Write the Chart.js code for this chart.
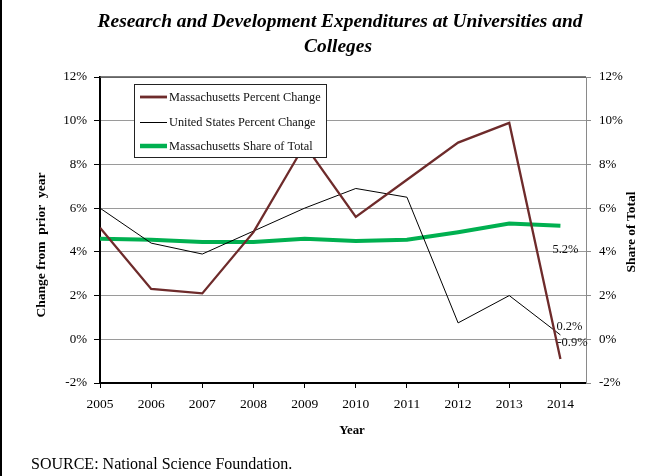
<!DOCTYPE html>
<html><head><meta charset="utf-8">
<script src="https://cdn.jsdelivr.net/npm/chart.js@4.4.0/dist/chart.umd.min.js"></script>
<style>
html,body{margin:0;padding:0;background:#fff;}
#wrap{position:relative;width:645px;height:476px;overflow:hidden;}
#edge{position:absolute;left:0;top:0;width:2px;height:476px;background:#000;}
canvas{display:block;}
</style></head><body>
<div id="wrap"><canvas id="c" width="645" height="476"></canvas><div id="edge"></div></div>
<script>
// ---- data ----
const years = [2005, 2006, 2007, 2008, 2009, 2010, 2011, 2012, 2013, 2014];
const maChange = [5.1, 2.3, 2.1, 4.9, 8.9, 5.6, 7.3, 9.0, 9.9, -0.9];
const usChange = [6.0, 4.4, 3.9, 4.95, 6.0, 6.9, 6.5, 0.75, 2.0, 0.2];
const maShare  = [4.6, 4.55, 4.45, 4.45, 4.6, 4.5, 4.55, 4.9, 5.3, 5.2];
const seriesNames = ['Massachusetts Percent Change', 'United States Percent Change', 'Massachusetts Share of Total'];
const seriesColors = ['#6E2B2B', '#000000', '#00B050'];
const seriesWidths = [2.3, 1, 4];
const yMin = -2, yMax = 12, yStep = 2;
const titleLines = ['Research and Development Expenditures at Universities and', 'Colleges'];
const leftTitle = 'Change from  prior  year';
const rightTitle = 'Share of Total';
const xTitle = 'Year';
const sourceText = 'SOURCE: National Science Foundation.';
// end labels: [series index, year index, text]
const endLabels = [[2, 9, '5.2%'], [1, 9, '0.2%'], [0, 9, '-0.9%']];

const FONT = "'Liberation Serif', 'Times New Roman', serif";
const seriesData = [maChange, usChange, maShare];

const datasets = seriesData.map((arr, i) => ({
  label: seriesNames[i],
  data: arr.map((v, k) => ({x: years[k], y: v})),
  borderColor: seriesColors[i],
  backgroundColor: seriesColors[i],
  borderWidth: seriesWidths[i],
  pointRadius: 0,
  tension: 0,
  fill: false,
  yAxisID: i === 2 ? 'y2' : 'y',
  order: i
}));

const labelOffsets = [[-8, 27], [-4, -5], [-3, -13]];

const decor = {
  id: 'decor',
  afterDraw(chart) {
    const ctx = chart.ctx;
    const ca = chart.chartArea;
    const xs = chart.scales.x, ys = chart.scales.y;
    ctx.save();
    // top border
    ctx.strokeStyle = '#505050';
    ctx.lineWidth = 1.5;
    ctx.beginPath(); ctx.moveTo(ca.left, ca.top); ctx.lineTo(ca.right, ca.top); ctx.stroke();

    // end labels
    ctx.fillStyle = '#111';
    ctx.font = '12.5px ' + FONT;
    ctx.textAlign = 'left';
    ctx.textBaseline = 'alphabetic';
    endLabels.forEach((row, r) => {
      const [si, yi, txt] = row;
      const px = xs.getPixelForValue(years[yi]);
      const py = ys.getPixelForValue(seriesData[si][yi]);
      ctx.fillText(txt, px + labelOffsets[r][0], py + labelOffsets[r][1]);
    });

    // legend
    const lx = 134.5, ly = 84.5, lw = 192, lh = 73;
    ctx.fillStyle = '#fff';
    ctx.fillRect(lx, ly, lw, lh);
    ctx.strokeStyle = '#222';
    ctx.lineWidth = 1;
    ctx.strokeRect(lx, ly, lw, lh);
    const rowsY = [97, 122, 146];
    ctx.font = '12.3px ' + FONT;
    ctx.textBaseline = 'middle';
    seriesNames.forEach((nm, i) => {
      ctx.strokeStyle = seriesColors[i];
      ctx.lineWidth = seriesWidths[i] === 1 ? 1 : seriesWidths[i] + 0.5;
      ctx.beginPath();
      ctx.moveTo(140, rowsY[i] + (seriesWidths[i] === 1 ? 0.5 : 0));
      ctx.lineTo(167, rowsY[i] + (seriesWidths[i] === 1 ? 0.5 : 0));
      ctx.stroke();
      ctx.fillStyle = '#111';
      ctx.fillText(nm, 169, rowsY[i] + 1);
    });

    // title
    ctx.fillStyle = '#000';
    ctx.textAlign = 'center';
    ctx.textBaseline = 'alphabetic';
    ctx.font = 'italic bold 19.4px ' + FONT;
    ctx.fillText(titleLines[0], 340, 27);
    ctx.fillText(titleLines[1], 338, 52);

    // axis titles
    ctx.font = 'bold 13.5px ' + FONT;
    ctx.textBaseline = 'middle';
    ctx.save();
    ctx.translate(42, 245);
    ctx.rotate(-Math.PI / 2);
    ctx.fillText(leftTitle, 0, 0);
    ctx.restore();
    ctx.save();
    ctx.translate(632, 232);
    ctx.rotate(-Math.PI / 2);
    ctx.fillText(rightTitle, 0, 0);
    ctx.restore();
    ctx.font = 'bold 12.8px ' + FONT;
    ctx.fillText(xTitle, 352, 431);

    // source
    ctx.textAlign = 'left';
    ctx.textBaseline = 'alphabetic';
    ctx.font = '16px ' + FONT;
    ctx.fillText(sourceText, 31, 469);
    ctx.restore();
  }
};

const pctTick = v => v + '%';

new Chart(document.getElementById('c'), {
  type: 'line',
  data: { datasets },
  plugins: [decor],
  options: {
    responsive: false,
    animation: false,
    devicePixelRatio: 1,
    layout: { padding: { top: 77, left: 0, right: 0, bottom: 0 } },
    plugins: { legend: { display: false }, tooltip: { enabled: false }, title: { display: false } },
    scales: {
      x: {
        type: 'linear',
        position: 'bottom',
        min: years[0],
        max: years[years.length - 1] + 0.5,
        afterBuildTicks: s => { s.ticks = years.map(v => ({ value: v })); },
        afterFit: s => { s.height = 93; },
        ticks: { callback: v => String(v), color: '#000', font: { family: FONT, size: 13.5 }, padding: 8, maxRotation: 0, autoSkip: false },
        grid: { drawOnChartArea: false, tickColor: '#000', tickLength: 5, tickWidth: 1 },
        border: { color: '#000', width: 2 }
      },
      y: {
        position: 'left',
        min: yMin, max: yMax,
        afterFit: s => { s.width = 100; },
        ticks: { stepSize: yStep, callback: pctTick, color: '#000', font: { family: FONT, size: 13 }, padding: 7 },
        grid: { color: '#9a9a9a', lineWidth: 1, tickColor: '#000', tickLength: 6 },
        border: { color: '#000', width: 2 }
      },
      y2: {
        position: 'right',
        min: yMin, max: yMax,
        afterFit: s => { s.width = 59; },
        ticks: { stepSize: yStep, callback: pctTick, color: '#000', font: { family: FONT, size: 13 }, padding: 8 },
        grid: { drawOnChartArea: false, tickColor: '#8a8a8a', tickLength: 5 },
        border: { color: '#8a8a8a', width: 1 }
      }
    }
  }
});
</script>
</body></html>
